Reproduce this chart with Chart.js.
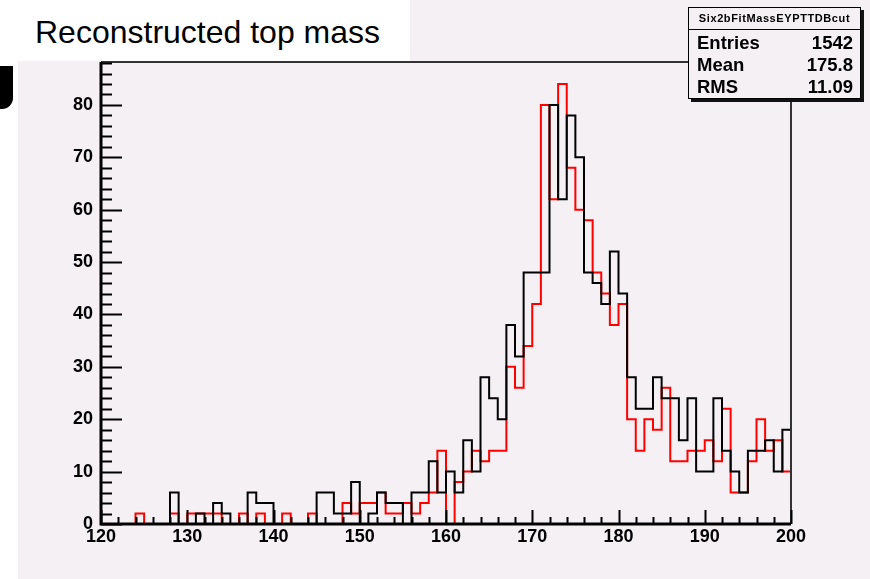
<!DOCTYPE html>
<html>
<head>
<meta charset="utf-8">
<script src="https://cdn.jsdelivr.net/npm/chart.js@4.4.1/dist/chart.umd.min.js"></script>
<style>
  body { margin: 0; background: #fff; }
  #wrap { position: relative; width: 870px; height: 579px; overflow: hidden; background: #fff; }
  #pad { position: absolute; left: 18px; top: 0; width: 852px; height: 579px; background: #f4f0f4; }
  #title { position: absolute; left: 0; top: 0; width: 410px; height: 61px; background: #fff;
    font: 32px 'Liberation Sans', Arial, sans-serif; color: #000; }
  #title span { position: absolute; left: 35px; top: 14px; white-space: nowrap; }
  #blob { position: absolute; left: 0; top: 66px; width: 13px; height: 43px; background: #000;
    border-bottom-right-radius: 11px; }
  canvas { position: absolute; left: 0; top: 0; }
  #stats { position: absolute; left: 688px; top: 7px; width: 171px; height: 90px; background: #f4f0f4;
    border: 1.5px solid #000; box-shadow: 3px 3px 0 #111; font-family: 'Liberation Sans', Arial, sans-serif;
    font-weight: bold; color: #000; }
  #stats .hd { height: 21px; border-bottom: 1.5px solid #000; text-align: center; font-size: 11px;
    letter-spacing: 0.6px; line-height: 21px; }
  #stats .row { position: relative; height: 22px; font-size: 18.5px; line-height: 22px; }
  #stats .row .k { position: absolute; left: 8px; }
  #stats .row .v { position: absolute; right: 7px; }
</style>
</head>
<body>
<div id="wrap">
  <div id="pad"></div>
  <canvas id="c" width="870" height="579"></canvas>
  <div id="title"><span>Reconstructed top mass</span></div>
  <div id="blob"></div>
  <div id="stats">
    <div class="hd">Six2bFitMassEYPTTDBcut</div>
    <div class="row" style="margin-top:2px"><span class="k">Entries</span><span class="v">1542</span></div>
    <div class="row"><span class="k">Mean</span><span class="v">175.8</span></div>
    <div class="row"><span class="k">RMS</span><span class="v">11.09</span></div>
  </div>
</div>
<script>
// lower edge of every 1 GeV bin
const binLow = [120, 121, 122, 123, 124, 125, 126, 127, 128, 129,
  130, 131, 132, 133, 134, 135, 136, 137, 138, 139,
  140, 141, 142, 143, 144, 145, 146, 147, 148, 149,
  150, 151, 152, 153, 154, 155, 156, 157, 158, 159,
  160, 161, 162, 163, 164, 165, 166, 167, 168, 169,
  170, 171, 172, 173, 174, 175, 176, 177, 178, 179,
  180, 181, 182, 183, 184, 185, 186, 187, 188, 189,
  190, 191, 192, 193, 194, 195, 196, 197, 198, 199]
const xMax = 200

const blackCounts = [0, 0, 0, 0, 0, 0, 0, 0, 6, 0,
  0, 2, 0, 4, 2, 0, 0, 6, 4, 4,
  0, 0, 0, 0, 0, 6, 6, 2, 2, 8,
  0, 2, 6, 4, 4, 0, 6, 6, 12, 6,
  10, 6, 16, 10, 28, 24, 20, 38, 32, 48,
  48, 48, 80, 62, 78, 70, 48, 46, 42, 52,
  44, 28, 22, 22, 28, 24, 24, 16, 24, 10,
  10, 24, 14, 10, 6, 14, 14, 16, 10, 18]

const redCounts = [0, 0, 0, 0, 2, 0, 0, 0, 2, 0,
  2, 2, 2, 2, 0, 0, 2, 0, 2, 0,
  0, 2, 0, 0, 2, 0, 0, 0, 4, 2,
  4, 4, 6, 2, 2, 4, 2, 4, 6, 14,
  0, 8, 10, 14, 12, 14, 14, 30, 26, 34,
  42, 80, 62, 84, 68, 60, 58, 48, 44, 38,
  42, 20, 14, 20, 18, 26, 12, 12, 14, 14,
  16, 12, 22, 6, 6, 12, 20, 14, 16, 10]

const xTicks = [120, 130, 140, 150, 160, 170, 180, 190, 200]
const yTicks = [0, 10, 20, 30, 40, 50, 60, 70, 80]
const yTop = 88.2

function histPoints(counts) {
  const pts = binLow.map((x, i) => ({ x: x, y: counts[i] }))
  pts.push({ x: xMax, y: counts[counts.length - 1] })
  return pts
}

const font = "'Liberation Sans', Arial, sans-serif"

// ROOT style frame with ticks pointing inwards
const rootFrame = {
  id: 'rootFrame',
  afterDatasetsDraw(chart) {
    const ctx = chart.ctx
    const a = chart.chartArea
    const xs = chart.scales.x
    const ys = chart.scales.y
    ctx.save()
    ctx.strokeStyle = '#333'
    ctx.lineWidth = 2
    ctx.beginPath()
    ctx.moveTo(a.left, a.top)
    ctx.lineTo(a.right, a.top)
    ctx.lineTo(a.right, a.bottom)
    ctx.stroke()

    ctx.strokeStyle = '#000'
    ctx.lineWidth = 2
    for (let v = 120; v <= 200; v += 2) {
      const px = Math.round(xs.getPixelForValue(v)) + 0.5
      const len = v % 10 === 0 ? 14 : 7
      ctx.beginPath()
      ctx.moveTo(px, a.bottom)
      ctx.lineTo(px, a.bottom - len)
      ctx.stroke()
    }
    for (let v = 0; v <= 88; v += 2) {
      const py = Math.round(ys.getPixelForValue(v)) + 0.5
      const len = v % 10 === 0 ? 21 : 11
      ctx.beginPath()
      ctx.moveTo(a.left, py)
      ctx.lineTo(a.left + len, py)
      ctx.stroke()
    }
    ctx.lineWidth = 3
    ctx.beginPath()
    ctx.moveTo(a.left, a.top)
    ctx.lineTo(a.left, a.bottom)
    ctx.lineTo(a.right, a.bottom)
    ctx.stroke()
    ctx.restore()
  }
}

new Chart(document.getElementById('c'), {
  type: 'line',
  data: {
    datasets: [
      { label: 'black', data: histPoints(blackCounts), borderColor: '#000', borderWidth: 2, stepped: 'before', pointRadius: 0, fill: false },
      { label: 'red', data: histPoints(redCounts), borderColor: '#ff0000', borderWidth: 2, stepped: 'before', pointRadius: 0, fill: false }
    ]
  },
  options: {
    responsive: false,
    animation: false,
    layout: { padding: { left: 0, top: 62, right: 79, bottom: 0 } },
    plugins: { legend: { display: false }, tooltip: { enabled: false } },
    scales: {
      x: {
        type: 'linear', min: 120, max: xMax,
        afterBuildTicks: s => { s.ticks = xTicks.map(v => ({ value: v })) },
        afterFit: s => { s.height = 55 },
        ticks: { color: '#000', padding: 2, font: { family: font, size: 18, weight: 'bold' } },
        grid: { display: false, drawTicks: false },
        border: { display: false }
      },
      y: {
        min: 0, max: yTop,
        afterBuildTicks: s => { s.ticks = yTicks.map(v => ({ value: v })) },
        afterFit: s => { s.width = 101 },
        ticks: { color: '#000', padding: 8, font: { family: font, size: 18, weight: 'bold' } },
        grid: { display: false, drawTicks: false },
        border: { display: false }
      }
    }
  },
  plugins: [rootFrame]
})
</script>
</body>
</html>
